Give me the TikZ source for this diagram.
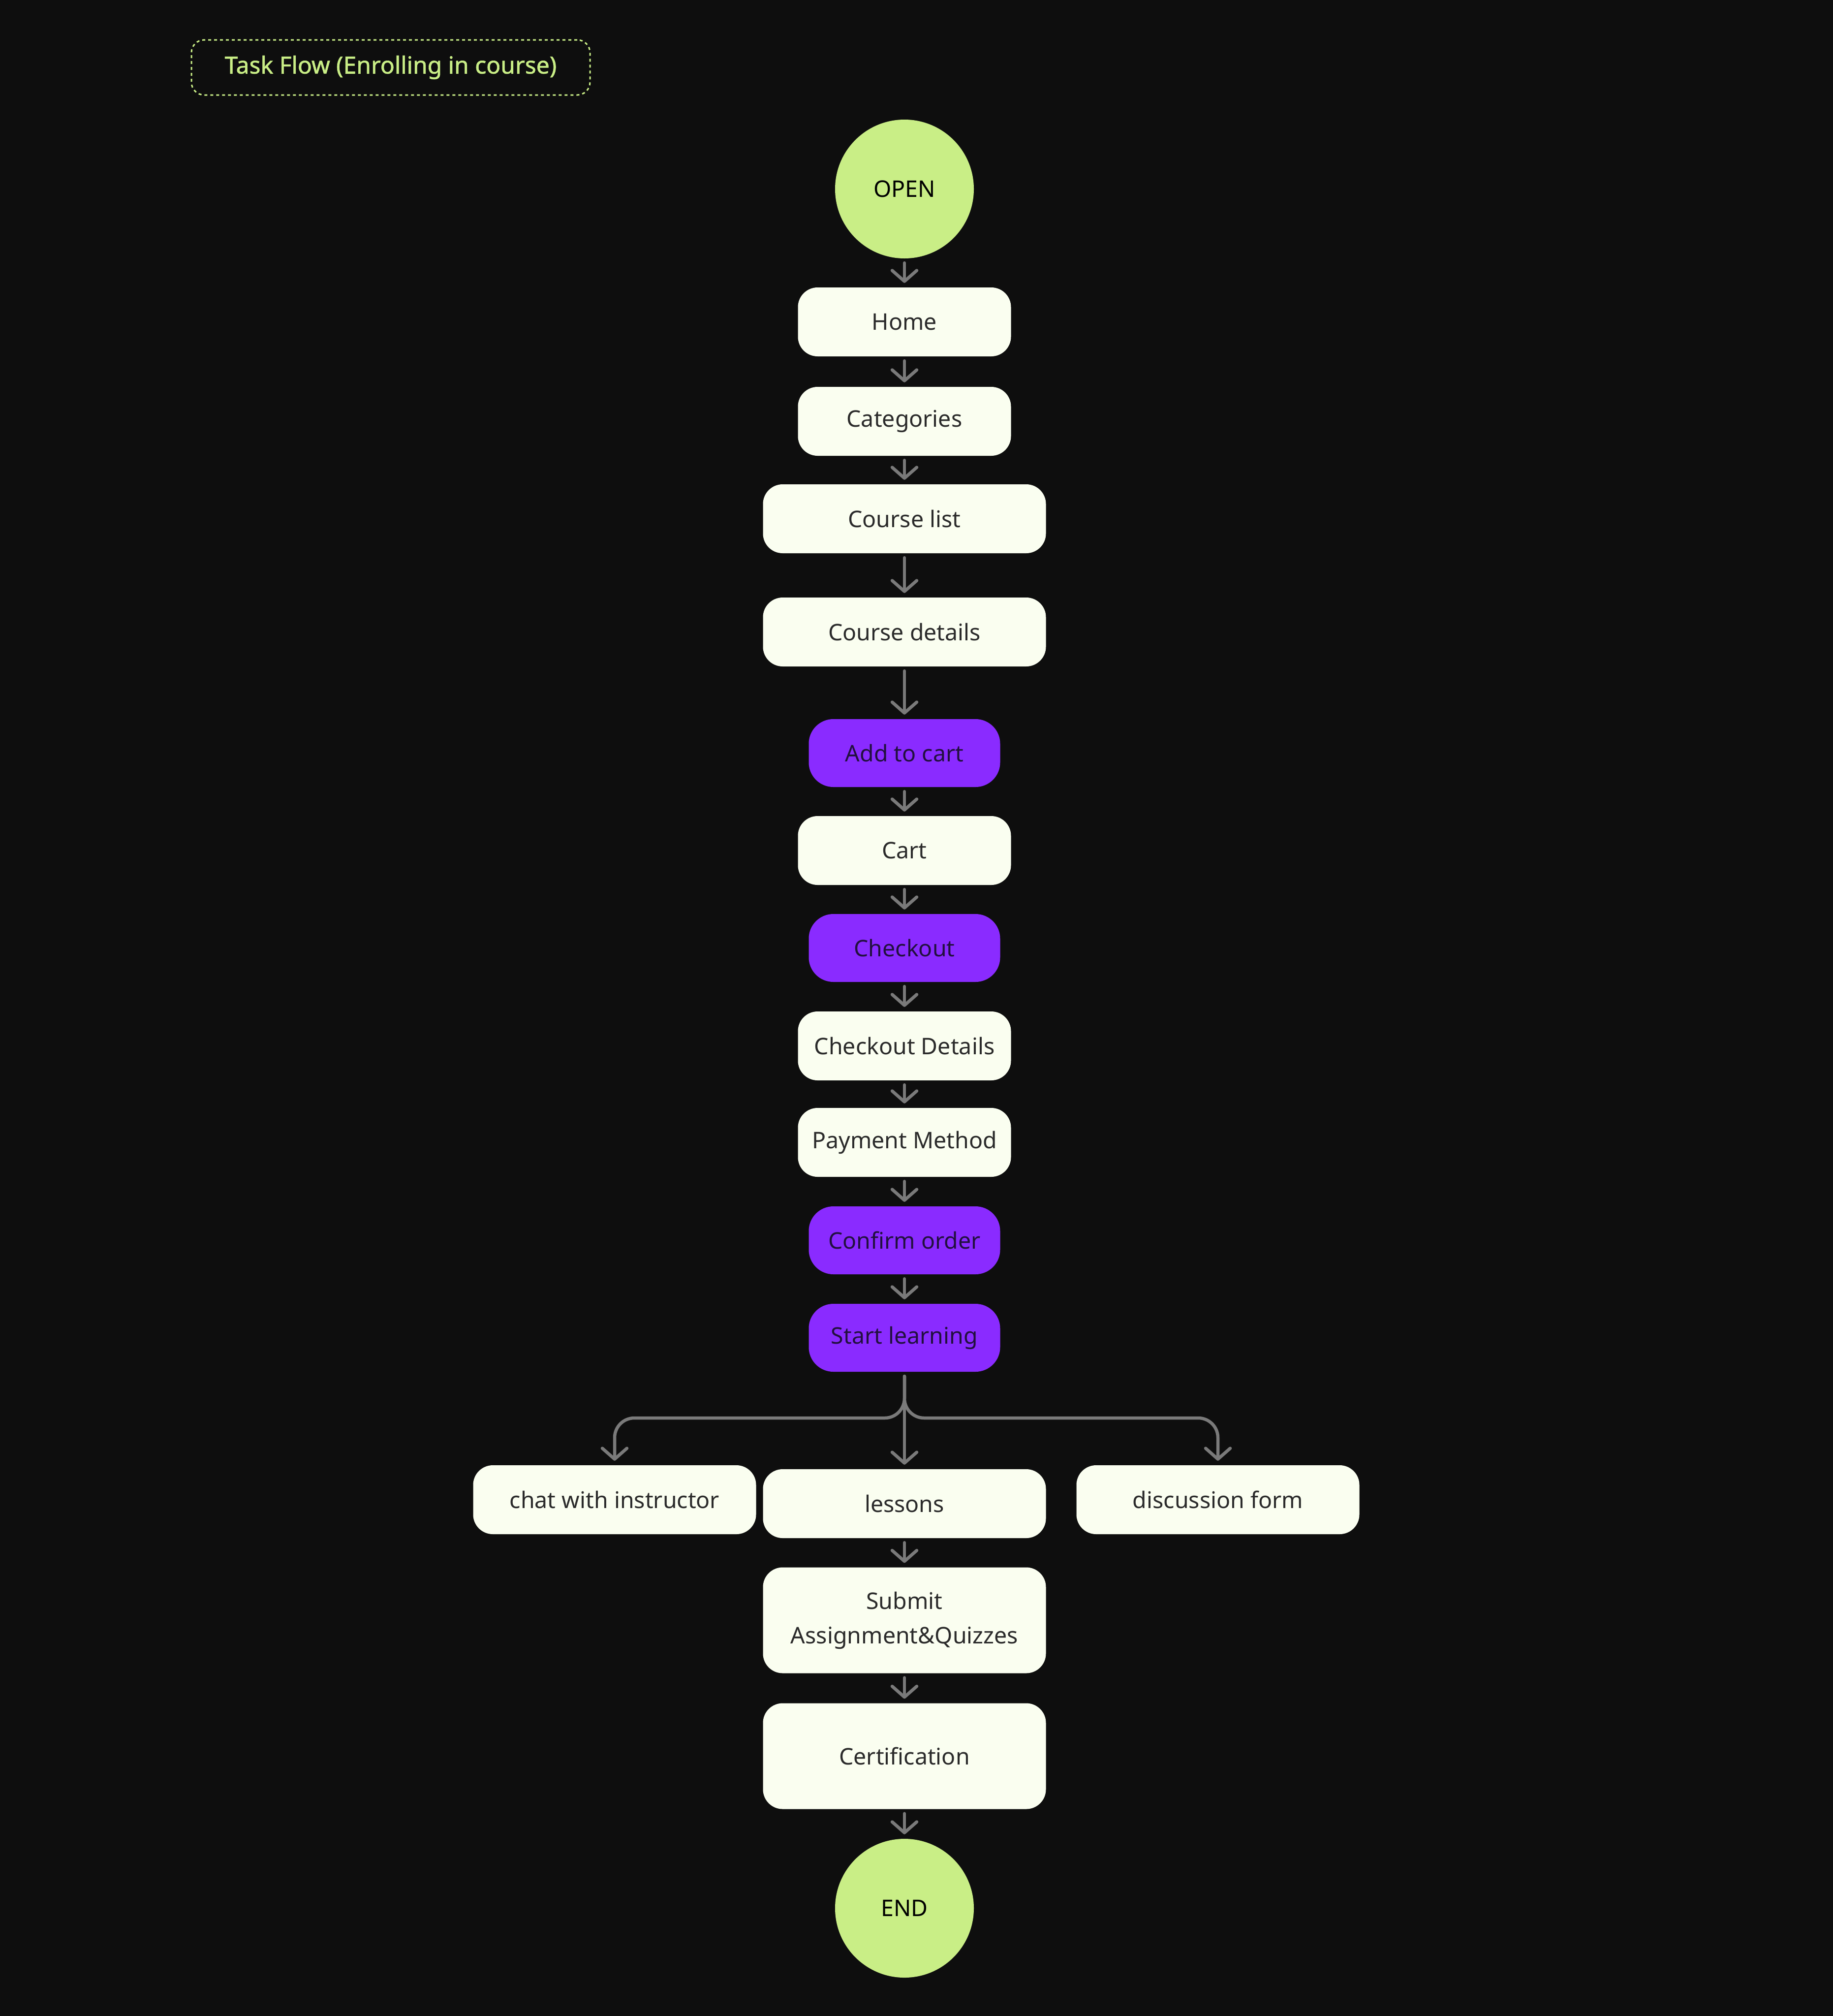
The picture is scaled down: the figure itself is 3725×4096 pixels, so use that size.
\documentclass[tikz,border=0pt]{standalone}
\usepackage{fontspec}
\setmainfont{Noto Sans}
\newfontfamily\titlefont[FakeBold=1.2]{Noto Sans}
\usetikzlibrary{arrows.meta}
\definecolor{bg}{HTML}{0E0E0E}
\definecolor{lime}{HTML}{C9EE86}
\definecolor{boxw}{HTML}{FAFEF0}
\definecolor{txt}{HTML}{2B2B2B}
\definecolor{purp}{HTML}{8A2BFF}
\definecolor{ptxt}{HTML}{22103F}
\definecolor{agray}{HTML}{7A7A7A}
\begin{document}
\begin{tikzpicture}[x=1pt,y=-1pt,
  basefont/.style={font=\fontsize{46.5}{70}\selectfont},
  wbox/.style={basefont, fill=boxw, rounded corners=40pt, minimum height=140pt, text=txt, inner sep=0pt, align=center},
  pbox/.style={basefont, fill=purp, rounded corners=50pt, minimum height=138pt, minimum width=389pt, text=ptxt, inner sep=0pt},
  endpt/.style={basefont, circle, fill=lime, minimum size=282pt, inner sep=0pt, text=black},
  narrow/.style={minimum width=433pt},
  wide/.style={minimum width=575pt},
  arr/.style={draw=agray, line width=6.5pt, line cap=round, shorten >=9pt, shorten <=9pt,
    -{Straight Barb[length=22pt,width=50pt,round]}},
  titlebox/.style={draw=lime, line width=3pt, dash pattern=on 6pt off 6pt, rounded corners=26pt,
    minimum width=810pt, minimum height=112pt, text=lime, font=\titlefont\fontsize{48}{56}\selectfont}
]
\useasboundingbox (0,0) rectangle (3725,4096);
\fill[bg] (0,0) rectangle (3725,4096);

\node[titlebox] (title) at (794,137) {Task Flow (Enrolling in course)};

\node[endpt] (open) at (1838,384) {OPEN};
\node[wbox, narrow] (home) at (1838,654) {Home};
\node[wbox, narrow] (cat) at (1838,856) {Categories};
\node[wbox, wide] (clist) at (1838,1054) {Course list};
\node[wbox, wide] (cdet) at (1838,1284) {Course details};
\node[pbox] (add) at (1838,1530) {Add to cart};
\node[wbox, narrow] (cart) at (1838,1728) {Cart};
\node[pbox] (chk) at (1838,1926) {Checkout};
\node[wbox, narrow] (chkd) at (1838,2125) {Checkout Details};
\node[wbox, narrow] (pay) at (1838,2321) {Payment Method};
\node[pbox] (conf) at (1838,2520) {Confirm order};
\node[pbox] (start) at (1838,2718) {Start learning};
\node[wbox, wide] (chat) at (1249,3047) {chat with instructor};
\node[wbox, wide] (less) at (1838,3055) {lessons};
\node[wbox, wide] (disc) at (2475,3047) {discussion form};
\node[wbox, wide, minimum height=215pt] (sub) at (1838,3292) {Submit\\Assignment\&Quizzes};
\node[wbox, wide, minimum height=215pt] (cert) at (1838,3568) {Certification};
\node[endpt] (end) at (1838,3877) {END};

\draw[arr] (open.south) -- (home.north);
\draw[arr] (home.south) -- (cat.north);
\draw[arr] (cat.south) -- (clist.north);
\draw[arr] (clist.south) -- (cdet.north);
\draw[arr] (cdet.south) -- (add.north);
\draw[arr] (add.south) -- (cart.north);
\draw[arr] (cart.south) -- (chk.north);
\draw[arr] (chk.south) -- (chkd.north);
\draw[arr] (chkd.south) -- (pay.north);
\draw[arr] (pay.south) -- (conf.north);
\draw[arr] (conf.south) -- (start.north);

\coordinate (hb) at (1838,2881);
\draw[arr] (start.south) -- (less.north);
\draw[arr, rounded corners=40pt] (start.south) -- (hb) -- (hb -| chat.north) -- (chat.north);
\draw[arr, rounded corners=40pt] (start.south) -- (hb) -- (hb -| disc.north) -- (disc.north);

\draw[arr] (less.south) -- (sub.north);
\draw[arr] (sub.south) -- (cert.north);
\draw[arr] (cert.south) -- (end.north);
\end{tikzpicture}
\end{document}
